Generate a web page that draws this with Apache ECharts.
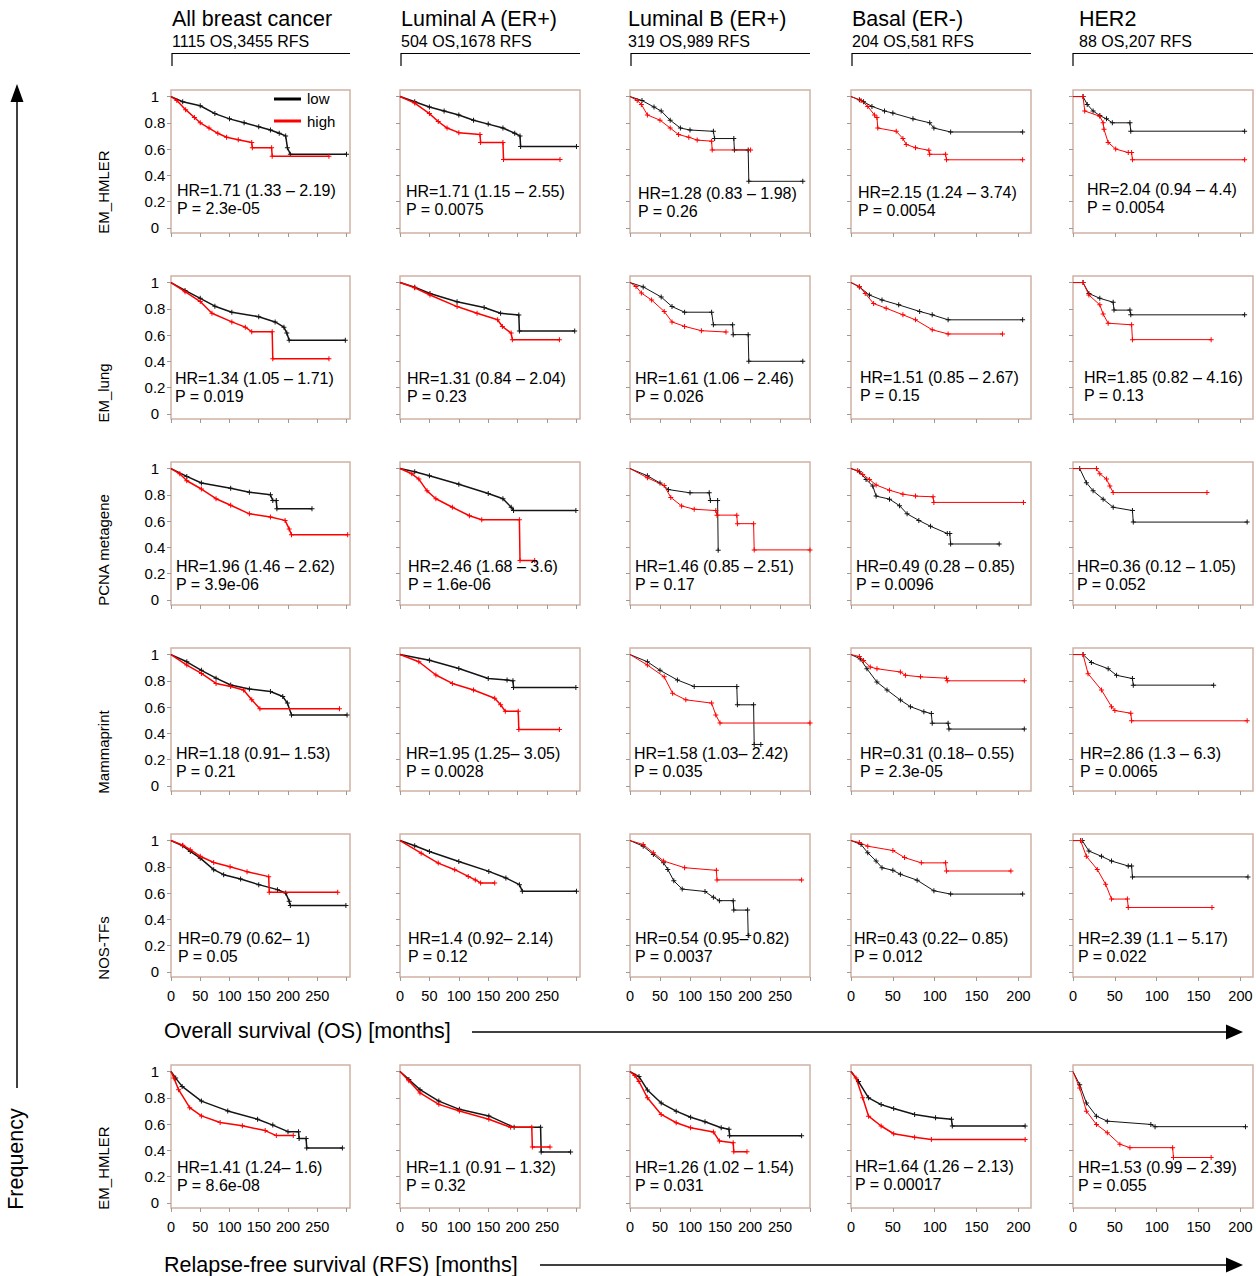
<!DOCTYPE html>
<html>
<head>
<meta charset="utf-8">
<script src="https://cdn.jsdelivr.net/npm/echarts@6/dist/echarts.min.js"></script>
<style>
html,body{margin:0;padding:0;background:#fff;}
#chart{width:1256px;height:1276px;}
</style>
</head>
<body>
<div id="chart"></div>
<script>
// ---------- labels ----------
const columnTitles = ['All breast cancer', 'Luminal A (ER+)', 'Luminal B (ER+)', 'Basal (ER-)', 'HER2'];
const columnCounts = ['1115 OS,3455 RFS', '504 OS,1678 RFS', '319 OS,989 RFS', '204 OS,581 RFS', '88 OS,207 RFS'];
const rowLabels = ['EM_HMLER', 'EM_lung', 'PCNA metagene', 'Mammaprint', 'NOS-TFs', 'EM_HMLER'];
const hrLabels = [
  ['HR=1.71 (1.33 \u2013 2.19)', 'HR=1.71 (1.15 \u2013 2.55)', 'HR=1.28 (0.83 \u2013 1.98)', 'HR=2.15 (1.24 \u2013 3.74)', 'HR=2.04 (0.94 \u2013 4.4)'],
  ['HR=1.34 (1.05 \u2013 1.71)', 'HR=1.31 (0.84 \u2013 2.04)', 'HR=1.61 (1.06 \u2013 2.46)', 'HR=1.51 (0.85 \u2013 2.67)', 'HR=1.85 (0.82 \u2013 4.16)'],
  ['HR=1.96 (1.46 \u2013 2.62)', 'HR=2.46 (1.68 \u2013 3.6)', 'HR=1.46 (0.85 \u2013 2.51)', 'HR=0.49 (0.28 \u2013 0.85)', 'HR=0.36 (0.12 \u2013 1.05)'],
  ['HR=1.18 (0.91\u2013 1.53)', 'HR=1.95 (1.25\u2013 3.05)', 'HR=1.58 (1.03\u2013 2.42)', 'HR=0.31 (0.18\u2013 0.55)', 'HR=2.86 (1.3 \u2013 6.3)'],
  ['HR=0.79 (0.62\u2013 1)', 'HR=1.4 (0.92\u2013 2.14)', 'HR=0.54 (0.95\u2013 0.82)', 'HR=0.43 (0.22\u2013 0.85)', 'HR=2.39 (1.1 \u2013 5.17)'],
  ['HR=1.41 (1.24\u2013 1.6)', 'HR=1.1 (0.91 \u2013 1.32)', 'HR=1.26 (1.02 \u2013 1.54)', 'HR=1.64 (1.26 \u2013 2.13)', 'HR=1.53 (0.99 \u2013 2.39)']
];
const pLabels = [
  ['P = 2.3e-05', 'P = 0.0075', 'P = 0.26', 'P = 0.0054', 'P = 0.0054'],
  ['P = 0.019', 'P = 0.23', 'P = 0.026', 'P = 0.15', 'P = 0.13'],
  ['P = 3.9e-06', 'P = 1.6e-06', 'P = 0.17', 'P = 0.0096', 'P = 0.052'],
  ['P = 0.21', 'P = 0.0028', 'P = 0.035', 'P = 2.3e-05', 'P = 0.0065'],
  ['P = 0.05', 'P = 0.12', 'P = 0.0037', 'P = 0.012', 'P = 0.022'],
  ['P = 8.6e-08', 'P = 0.32', 'P = 0.031', 'P = 0.00017', 'P = 0.055']
];
const legendLabels = ['low', 'high'];

// ---------- tick values ----------
const yTicks = [0, 0.2, 0.4, 0.6, 0.8, 1];
const xTicksLong = [0, 50, 100, 150, 200, 250, 300];
const xLabelsLong = [0, 50, 100, 150, 200, 250];
const xTicksShort = [0, 50, 100, 150, 200];

// ---------- curves: [months, survival] ----------
// Row 1: EM_HMLER (OS)
const r1c1_low  = [[0,1],[20,0.96],[50,0.93],[75,0.87],[100,0.83],[125,0.8],[150,0.77],[170,0.745],[185,0.72],[196,0.70],[199,0.61],[204,0.56],[300,0.56]];
const r1c1_high = [[0,1],[10,0.97],[25,0.9],[40,0.84],[50,0.8],[65,0.76],[80,0.72],[95,0.69],[115,0.67],[138,0.65],[139,0.61],[172,0.61],[173,0.545],[270,0.545]];
const r1c2_low  = [[0,1],[25,0.96],[50,0.92],[75,0.89],[100,0.86],[125,0.82],[150,0.79],[175,0.76],[195,0.72],[204,0.70],[205,0.62],[300,0.62]];
const r1c2_high = [[0,1],[25,0.95],[50,0.87],[65,0.81],[80,0.76],[100,0.725],[136,0.71],[137,0.65],[175,0.65],[176,0.52],[272,0.52]];
const r1c3_low  = [[0,1],[20,0.97],[40,0.92],[52,0.89],[67,0.82],[84,0.76],[100,0.745],[139,0.735],[141,0.68],[173,0.68],[174,0.593],[197,0.593],[198,0.354],[288,0.354]];
const r1c3_high = [[0,1],[12,0.97],[19,0.94],[29,0.86],[50,0.82],[67,0.76],[81,0.71],[98,0.69],[112,0.668],[136,0.66],[137,0.593],[201,0.593]];
const r1c4_low  = [[0,1],[10,0.975],[15,0.96],[25,0.925],[40,0.89],[50,0.874],[74,0.83],[94,0.80],[99,0.76],[119,0.73],[205,0.73]];
const r1c4_high = [[0,1],[12,0.97],[20,0.925],[28,0.86],[31,0.84],[32,0.76],[54,0.735],[62,0.68],[66,0.635],[77,0.61],[93,0.59],[94,0.56],[113,0.56],[114,0.518],[205,0.518]];
const r1c5_low  = [[0,1],[12,1],[17,0.94],[24,0.89],[32,0.855],[40,0.83],[47,0.80],[68,0.80],[69,0.736],[205,0.736]];
const r1c5_high = [[0,1],[12,1],[14,0.89],[32,0.85],[36,0.80],[37,0.75],[42,0.65],[51,0.6],[66,0.573],[70,0.573],[71,0.518],[205,0.518]];
// Row 2: EM_lung (OS)
const r2c1_low  = [[0,1],[24,0.94],[50,0.88],[75,0.82],[104,0.774],[150,0.74],[178,0.70],[193,0.66],[198,0.615],[202,0.56],[298,0.56]];
const r2c1_high = [[0,1],[24,0.93],[50,0.855],[70,0.766],[104,0.70],[127,0.66],[138,0.625],[173,0.625],[174,0.42],[270,0.42]];
const r2c2_low  = [[0,1],[25,0.965],[51,0.917],[97,0.854],[143,0.81],[171,0.766],[202,0.753],[203,0.63],[297,0.63]];
const r2c2_high = [[0,1],[25,0.96],[51,0.905],[97,0.817],[131,0.766],[166,0.716],[174,0.665],[189,0.615],[191,0.565],[271,0.565]];
const r2c3_low  = [[0,1],[22,0.967],[52,0.89],[70,0.817],[91,0.774],[136,0.774],[139,0.678],[171,0.678],[172,0.603],[197,0.603],[198,0.40],[288,0.40]];
const r2c3_high = [[0,1],[10,0.97],[19,0.92],[36,0.867],[57,0.78],[70,0.70],[91,0.666],[119,0.633],[160,0.623]];
const r2c4_low  = [[0,1],[10,0.967],[22,0.905],[37,0.867],[57,0.83],[82,0.78],[97,0.754],[116,0.716],[205,0.716]];
const r2c4_high = [[0,1],[10,0.97],[17,0.917],[27,0.84],[42,0.804],[62,0.754],[77,0.716],[97,0.64],[116,0.608],[181,0.608]];
const r2c5_low  = [[0,1],[12,1],[19,0.917],[32,0.88],[48,0.85],[49,0.79],[68,0.79],[69,0.754],[205,0.754]];
const r2c5_high = [[0,1],[12,1],[19,0.905],[32,0.83],[36,0.76],[42,0.69],[70,0.678],[71,0.565],[165,0.565]];
// Row 3: PCNA metagene (OS)
const r3c1_low  = [[0,1],[27,0.94],[52,0.89],[102,0.85],[134,0.82],[170,0.80],[174,0.756],[180,0.756],[181,0.693],[241,0.693]];
const r3c1_high = [[0,1],[15,0.96],[27,0.907],[52,0.844],[77,0.77],[102,0.72],[134,0.655],[170,0.63],[195,0.605],[202,0.54],[206,0.496],[302,0.496]];
const r3c2_low  = [[0,1],[25,0.975],[50,0.945],[100,0.88],[150,0.81],[175,0.77],[189,0.705],[193,0.68],[299,0.68]];
const r3c2_high = [[0,1],[20,0.96],[32,0.92],[46,0.83],[61,0.77],[89,0.705],[118,0.64],[139,0.61],[203,0.61],[204,0.30],[229,0.30]];
const r3c3_low  = [[0,1],[29,0.945],[50,0.89],[64,0.84],[100,0.815],[132,0.815],[134,0.756],[146,0.756],[147,0.378]];
const r3c3_high = [[0,1],[29,0.93],[57,0.87],[68,0.78],[86,0.715],[107,0.69],[143,0.68],[145,0.645],[178,0.645],[179,0.58],[206,0.58],[207,0.38],[300,0.38]];
const r3c4_low  = [[0,1],[10,0.975],[18,0.917],[26,0.867],[30,0.79],[46,0.767],[58,0.717],[67,0.655],[81,0.605],[95,0.56],[115,0.505],[118,0.505],[119,0.425],[177,0.425]];
const r3c4_high = [[0,1],[8,0.985],[14,0.955],[22,0.917],[30,0.875],[46,0.835],[62,0.805],[77,0.79],[98,0.785],[99,0.742],[206,0.742]];
const r3c5_low  = [[0,1],[8,1],[16,0.892],[24,0.83],[36,0.767],[48,0.705],[71,0.68],[72,0.592],[208,0.592]];
const r3c5_high = [[0,1],[28,1],[32,0.96],[40,0.92],[44,0.867],[48,0.817],[160,0.817]];
// Row 4: Mammaprint (OS)
const r4c1_low  = [[0,1],[27,0.945],[52,0.88],[77,0.82],[102,0.768],[134,0.738],[170,0.718],[191,0.68],[199,0.63],[206,0.54],[301,0.54]];
const r4c1_high = [[0,1],[27,0.92],[52,0.856],[77,0.78],[102,0.756],[124,0.73],[138,0.655],[152,0.587],[288,0.587]];
const r4c2_low  = [[0,1],[50,0.957],[100,0.894],[150,0.818],[182,0.806],[192,0.8],[193,0.748],[299,0.748]];
const r4c2_high = [[0,1],[32,0.945],[61,0.844],[89,0.78],[125,0.73],[161,0.667],[171,0.617],[179,0.567],[201,0.567],[202,0.428],[271,0.428]];
const r4c3_low  = [[0,1],[29,0.945],[50,0.88],[79,0.806],[107,0.756],[178,0.756],[179,0.617],[206,0.617],[207,0.315],[218,0.315]];
const r4c3_high = [[0,1],[29,0.92],[57,0.83],[71,0.705],[93,0.655],[136,0.63],[143,0.54],[150,0.478],[300,0.478]];
const r4c4_low  = [[0,1],[11,0.967],[19,0.892],[31,0.79],[43,0.73],[59,0.653],[71,0.603],[87,0.565],[96,0.55],[97,0.477],[116,0.477],[117,0.432],[207,0.432]];
const r4c4_high = [[0,1],[10,0.985],[15,0.955],[23,0.905],[31,0.892],[59,0.867],[65,0.842],[83,0.83],[114,0.82],[115,0.80],[207,0.80]];
const r4c5_low  = [[0,1],[12,1],[22,0.94],[42,0.892],[52,0.842],[71,0.817],[72,0.767],[168,0.767]];
const r4c5_high = [[0,1],[12,1],[18,0.854],[34,0.73],[46,0.603],[50,0.573],[69,0.553],[70,0.495],[208,0.495]];
// Row 5: NOS-TFs (OS)
const r5c1_low  = [[0,1],[20,0.96],[33,0.917],[50,0.866],[73,0.778],[90,0.74],[119,0.707],[150,0.664],[182,0.626],[196,0.60],[202,0.538],[204,0.505],[299,0.505]];
const r5c1_high = [[0,1],[20,0.965],[33,0.93],[50,0.88],[73,0.833],[101,0.80],[130,0.763],[167,0.725],[168,0.606],[285,0.606]];
const r5c2_low  = [[0,1],[25,0.96],[50,0.917],[100,0.84],[151,0.765],[180,0.715],[203,0.664],[208,0.614],[300,0.614]];
const r5c2_high = [[0,1],[36,0.904],[65,0.828],[93,0.778],[116,0.727],[128,0.70],[137,0.677],[161,0.677]];
const r5c3_low  = [[0,1],[22,0.957],[39,0.894],[56,0.83],[63,0.78],[73,0.693],[87,0.63],[125,0.612],[139,0.567],[149,0.542],[172,0.542],[173,0.47],[196,0.47],[197,0.277],[198,0.277]];
const r5c3_high = [[0,1],[22,0.97],[39,0.907],[56,0.844],[91,0.793],[144,0.773],[145,0.70],[286,0.70]];
const r5c4_low  = [[0,1],[12,0.97],[20,0.907],[30,0.844],[37,0.793],[50,0.773],[59,0.743],[79,0.698],[99,0.617],[119,0.592],[205,0.592]];
const r5c4_high = [[0,1],[10,0.985],[20,0.957],[50,0.924],[64,0.87],[84,0.83],[113,0.83],[114,0.768],[191,0.768]];
const r5c5_low  = [[0,1],[11,1],[19,0.92],[34,0.88],[46,0.844],[66,0.806],[70,0.806],[71,0.723],[209,0.723]];
const r5c5_high = [[0,1],[9,1],[16,0.88],[29,0.78],[39,0.667],[46,0.554],[65,0.554],[66,0.49],[166,0.49]];
// Row 6: EM_HMLER (RFS)
const r6c1_low  = [[0,1],[8,0.95],[19,0.887],[52,0.775],[97,0.70],[148,0.637],[174,0.592],[200,0.542],[218,0.542],[219,0.49],[231,0.49],[232,0.417],[293,0.417]];
const r6c1_high = [[0,1],[5,0.95],[13,0.862],[32,0.725],[52,0.662],[84,0.612],[122,0.587],[161,0.55],[180,0.512],[209,0.512]];
const r6c2_low  = [[0,1],[15,0.94],[34,0.862],[66,0.775],[101,0.712],[151,0.662],[194,0.575],[239,0.575],[240,0.387],[290,0.387]];
const r6c2_high = [[0,1],[15,0.93],[34,0.837],[66,0.75],[101,0.70],[151,0.637],[188,0.575],[224,0.575],[225,0.425],[255,0.425]];
const r6c3_low  = [[0,1],[15,0.962],[29,0.86],[52,0.76],[77,0.698],[101,0.652],[125,0.617],[152,0.572],[165,0.56],[166,0.51],[286,0.51]];
const r6c3_high = [[0,1],[8,0.97],[15,0.924],[29,0.80],[52,0.673],[77,0.61],[101,0.572],[139,0.54],[149,0.47],[172,0.458],[173,0.388],[195,0.388]];
const r6c4_low  = [[0,1],[9,0.924],[21,0.80],[36,0.748],[51,0.718],[76,0.673],[101,0.648],[120,0.636],[121,0.585],[208,0.585]];
const r6c4_high = [[0,1],[6,0.95],[14,0.80],[21,0.66],[36,0.585],[51,0.526],[76,0.50],[96,0.483],[208,0.483]];
const r6c5_low  = [[0,1],[8,0.90],[16,0.76],[28,0.66],[41,0.622],[93,0.597],[98,0.58],[206,0.58]];
const r6c5_high = [[0,1],[8,0.874],[16,0.698],[28,0.597],[41,0.534],[56,0.446],[68,0.42],[119,0.42],[120,0.345],[165,0.345]];

const curves = [
  [[r1c1_low, r1c1_high], [r1c2_low, r1c2_high], [r1c3_low, r1c3_high], [r1c4_low, r1c4_high], [r1c5_low, r1c5_high]],
  [[r2c1_low, r2c1_high], [r2c2_low, r2c2_high], [r2c3_low, r2c3_high], [r2c4_low, r2c4_high], [r2c5_low, r2c5_high]],
  [[r3c1_low, r3c1_high], [r3c2_low, r3c2_high], [r3c3_low, r3c3_high], [r3c4_low, r3c4_high], [r3c5_low, r3c5_high]],
  [[r4c1_low, r4c1_high], [r4c2_low, r4c2_high], [r4c3_low, r4c3_high], [r4c4_low, r4c4_high], [r4c5_low, r4c5_high]],
  [[r5c1_low, r5c1_high], [r5c2_low, r5c2_high], [r5c3_low, r5c3_high], [r5c4_low, r5c4_high], [r5c5_low, r5c5_high]],
  [[r6c1_low, r6c1_high], [r6c2_low, r6c2_high], [r6c3_low, r6c3_high], [r6c4_low, r6c4_high], [r6c5_low, r6c5_high]]
];

// ---------- layout ----------
const FONT = '"Liberation Sans", Arial, Helvetica, sans-serif';
const colLeft = [171, 400, 630, 851, 1073];
const colWidth = [179, 180, 180, 180, 180];
const colMax = [306, 306, 300, 215, 215];
const rowTop = [90, 276, 462, 648, 834, 1065];
const panelH = 143;
const hrPos = [
  [[177,190],[406,191],[638,193],[858,192],[1087,189]],
  [[175,378],[407,378],[635,378],[860,377],[1084,377]],
  [[176,566],[408,566],[635,566],[856,566],[1077,566]],
  [[176,753],[406,753],[634,753],[860,753],[1080,753]],
  [[178,938],[408,938],[635,938],[854,938],[1078,938]],
  [[177,1167],[406,1167],[635,1167],[855,1166],[1078,1167]]
];
const rowLabelY = [192, 393, 550, 752, 948, 1168];
const headerX = [172, 401, 628, 852, 1079];
const bracket = [[172,350],[401,580],[631,810],[852,1031],[1073,1253]];
const BORDER = '#cfb3a5';
const TICK = '#9a9a9a';
const LOW = '#141414';
const HIGH = '#ff0000';
const PLUS = 'path://M4,0H6V4H10V6H6V10H4V6H0V4H4Z';

const grids = [], xAxes = [], yAxes = [], series = [], graphics = [];

for (let r = 0; r < 6; r++) {
  for (let c = 0; c < 5; c++) {
    const idx = r * 5 + c;
    grids.push({
      left: colLeft[c], top: rowTop[r], width: colWidth[c], height: panelH,
      show: true, borderColor: BORDER, borderWidth: 1.5, backgroundColor: '#fff', containLabel: false
    });
    const longX = c < 3;
    xAxes.push({
      gridIndex: idx, type: 'value', min: 0, max: colMax[c],
      axisLine: { show: false, onZero: false },
      axisTick: { show: true, inside: false, length: 4, lineStyle: { color: TICK, width: 1 },
                  customValues: longX ? xTicksLong : xTicksShort },
      axisLabel: { show: r >= 4, customValues: longX ? xLabelsLong : xTicksShort,
                   fontSize: 14.5, fontFamily: FONT, color: '#000', margin: 11 },
      splitLine: { show: false }
    });
    yAxes.push({
      gridIndex: idx, type: 'value', min: -0.04, max: 1.05,
      axisLine: { show: false, onZero: false },
      axisTick: { show: true, length: 4, lineStyle: { color: TICK, width: 1 }, customValues: yTicks },
      axisLabel: { show: c === 0, customValues: yTicks, fontSize: 15, fontFamily: FONT,
                   color: '#000', margin: 16, align: 'center' },
      splitLine: { show: false }
    });
    const dense = c < 2 || (r === 5 && c < 4);
    const pair = curves[r][c];
    [[pair[0], LOW, 'low'], [pair[1], HIGH, 'high']].forEach(([data, color, name]) => {
      series.push({
        type: 'line', name: name, xAxisIndex: idx, yAxisIndex: idx, data: data,
        showSymbol: true, showAllSymbol: true, symbol: PLUS,
        symbolSize: (v, p) => (p.dataIndex === 0 ? 0 : 5),
        itemStyle: { color: color },
        lineStyle: { color: color, width: dense ? 1.5 : 1 },
        silent: true, animation: false, emphasis: { disabled: true }, z: name === 'high' ? 3 : 2
      });
    });
    const [hx, hy] = hrPos[r][c];
    graphics.push({ type: 'text', silent: true, z: 50,
      style: { text: hrLabels[r][c], x: hx, y: hy, font: '16px ' + FONT, fill: '#000',
               textAlign: 'left', textVerticalAlign: 'middle' } });
    graphics.push({ type: 'text', silent: true, z: 50,
      style: { text: pLabels[r][c], x: hx, y: hy + 18.5, font: '16px ' + FONT, fill: '#000',
               textAlign: 'left', textVerticalAlign: 'middle' } });
  }
}

// column headers and brackets
for (let c = 0; c < 5; c++) {
  graphics.push({ type: 'text', silent: true,
    style: { text: columnTitles[c], x: headerX[c], y: 19, font: '21.5px ' + FONT, fill: '#000',
             textAlign: 'left', textVerticalAlign: 'middle' } });
  graphics.push({ type: 'text', silent: true,
    style: { text: columnCounts[c], x: headerX[c], y: 41, font: '16px ' + FONT, fill: '#000',
             textAlign: 'left', textVerticalAlign: 'middle' } });
  const [b0, b1] = bracket[c];
  graphics.push({ type: 'polyline', silent: true,
    shape: { points: [[b0, 66], [b0, 53.5], [b1, 53.5]] },
    style: { stroke: '#000', lineWidth: 1.2, fill: null } });
}

// row labels
for (let r = 0; r < 6; r++) {
  graphics.push({ type: 'text', silent: true, x: 103, y: rowLabelY[r], rotation: Math.PI / 2,
    style: { text: rowLabels[r], x: 0, y: 0, font: '15px ' + FONT, fill: '#000',
             textAlign: 'center', textVerticalAlign: 'middle' } });
}

// legend in first panel
graphics.push({ type: 'rect', silent: true, shape: { x: 274, y: 97.5, width: 27, height: 3 }, style: { fill: '#000' } });
graphics.push({ type: 'rect', silent: true, shape: { x: 274, y: 119.5, width: 27, height: 3 }, style: { fill: HIGH } });
graphics.push({ type: 'text', silent: true,
  style: { text: legendLabels[0], x: 307, y: 98, font: '15px ' + FONT, fill: '#000', textAlign: 'left', textVerticalAlign: 'middle' } });
graphics.push({ type: 'text', silent: true,
  style: { text: legendLabels[1], x: 307, y: 121, font: '15px ' + FONT, fill: '#000', textAlign: 'left', textVerticalAlign: 'middle' } });

// axis titles with arrows
graphics.push({ type: 'text', silent: true,
  style: { text: 'Overall survival (OS) [months]', x: 164, y: 1031, font: '21.5px ' + FONT, fill: '#000', textAlign: 'left', textVerticalAlign: 'middle' } });
graphics.push({ type: 'line', silent: true, shape: { x1: 472, y1: 1032, x2: 1228, y2: 1032 }, style: { stroke: '#000', lineWidth: 1.5 } });
graphics.push({ type: 'polygon', silent: true, shape: { points: [[1226, 1024.5], [1243, 1032], [1226, 1039.5]] }, style: { fill: '#000' } });

graphics.push({ type: 'text', silent: true,
  style: { text: 'Relapse-free survival (RFS) [months]', x: 164, y: 1265, font: '21.5px ' + FONT, fill: '#000', textAlign: 'left', textVerticalAlign: 'middle' } });
graphics.push({ type: 'line', silent: true, shape: { x1: 540, y1: 1265, x2: 1228, y2: 1265 }, style: { stroke: '#000', lineWidth: 1.5 } });
graphics.push({ type: 'polygon', silent: true, shape: { points: [[1226, 1257.5], [1243, 1265], [1226, 1272.5]] }, style: { fill: '#000' } });

graphics.push({ type: 'text', silent: true, x: 16, y: 1159, rotation: Math.PI / 2,
  style: { text: 'Frequency', x: 0, y: 0, font: '21.5px ' + FONT, fill: '#000', textAlign: 'center', textVerticalAlign: 'middle' } });
graphics.push({ type: 'line', silent: true, shape: { x1: 17, y1: 1088, x2: 17, y2: 100 }, style: { stroke: '#000', lineWidth: 1.5 } });
graphics.push({ type: 'polygon', silent: true, shape: { points: [[10.5, 102], [17, 84], [23.5, 102]] }, style: { fill: '#000' } });

const chart = echarts.init(document.getElementById('chart'), null, { renderer: 'svg', width: 1256, height: 1276 });
chart.setOption({
  animation: false,
  backgroundColor: '#fff',
  textStyle: { fontFamily: FONT },
  grid: grids,
  xAxis: xAxes,
  yAxis: yAxes,
  series: series,
  graphic: graphics
});
</script>
</body>
</html>
